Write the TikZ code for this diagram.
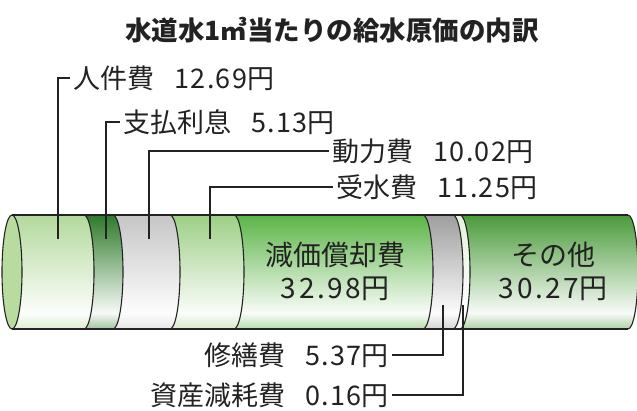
\documentclass[tikz,border=0pt]{standalone}
\usepackage{fontspec}
\newfontfamily\jpfont{Noto Sans CJK JP}
\newfontfamily\jpnum[LetterSpace=9]{Noto Sans CJK JP}
\newfontfamily\jplnum[LetterSpace=5]{Noto Sans CJK JP}
\definecolor{cA}{HTML}{B3D99C}
\definecolor{cB}{HTML}{2E7A2A}
\definecolor{cC}{HTML}{C6C6C6}
\definecolor{cD}{HTML}{9CCF85}
\definecolor{cE}{HTML}{5BB446}
\definecolor{cF}{HTML}{9E9E9E}
\definecolor{cG}{HTML}{E4F2DA}
\definecolor{cH}{HTML}{4A9A3A}
\definecolor{capc}{HTML}{B8DCA0}
\definecolor{ink}{HTML}{222222}
\newcommand\mkcylshade[2]{\pgfdeclareverticalshading{#1}{100bp}{color(0bp)=(#2!45!white); color(25bp)=(#2!45!white); color(32bp)=(#2!4!white); color(75bp)=(#2); color(100bp)=(#2)}}
\mkcylshade{shA}{cA}
\mkcylshade{shB}{cB}
\mkcylshade{shC}{cC}
\mkcylshade{shD}{cD}
\mkcylshade{shE}{cE}
\mkcylshade{shF}{cF}
\mkcylshade{shG}{cG}
\mkcylshade{shH}{cH}
\newcommand\cylseg[3]{\shade[shading=#3] (#1,195) arc[start angle=90,end angle=-90,x radius=10pt,y radius=57pt] -- (#2,81) arc[start angle=-90,end angle=90,x radius=10pt,y radius=57pt] -- cycle;}
\begin{document}
\begin{tikzpicture}[x=1pt,y=1pt,
  outline/.style={draw=ink,line width=1.1pt},
  leader/.style={draw=ink,line width=1.2pt},
  lbl/.style={font=\jpfont\fontsize{27}{30}\selectfont,text=ink,inner sep=3pt},
  intext/.style={font=\jpfont\fontsize{28}{33}\selectfont,text=ink,align=center},
  titlestyle/.style={font=\jpfont\bfseries\fontsize{26.5}{30}\selectfont,text=ink}]
\useasboundingbox (0,0) rectangle (637,410);
\clip (0,0) rectangle (637,410);
% title
\node[titlestyle] (title) at (332,380) {水道水1㎥当たりの給水原価の内訳};
% segments
\cylseg{12}{84}{shA}
\cylseg{84}{113}{shB}
\cylseg{113}{170}{shC}
\cylseg{170}{234}{shD}
\cylseg{234}{423}{shE}
\cylseg{423}{453}{shF}
\cylseg{453}{460}{shG}
\cylseg{460}{628}{shH}
% cap
\filldraw[outline,fill=capc] (12,138) ellipse [x radius=10pt,y radius=57pt];
% outline
\draw[outline] (12,195) -- (628,195);
\draw[outline] (12,81) -- (628,81);
\foreach \b in {84,113,170,234,423,453,460,628}
  \draw[outline] (\b,195) arc[start angle=90,end angle=-90,x radius=10pt,y radius=57pt];
% inner texts
\node[intext] (t5) at (335,139) {減価償却費\\{\jpnum 32.98}円};
\node[intext] (t8) at (553,139) {その他\\{\jpnum 30.27}円};
% labels
\node[lbl,anchor=west] (l1) at (70,332) {人件費\hspace{0.75em}{\jplnum 12.69}円};
\node[lbl,anchor=west] (l2) at (120,288) {支払利息\hspace{0.75em}{\jplnum 5.13}円};
\node[lbl,anchor=west] (l3) at (329,259) {動力費\hspace{0.75em}{\jplnum 10.02}円};
\node[lbl,anchor=west] (l4) at (333,223) {受水費\hspace{0.75em}{\jplnum 11.25}円};
\node[lbl,anchor=east] (l5) at (392,55) {修繕費\hspace{0.75em}{\jplnum 5.37}円};
\node[lbl,anchor=east] (l6) at (392,15) {資産減耗費\hspace{0.75em}{\jplnum 0.16}円};
% leader feet
\coordinate (f1) at (58,171);
\coordinate (f2) at (106,171);
\coordinate (f3) at (149,171);
\coordinate (f4) at (210,171);
\coordinate (f5) at (443,105);
\coordinate (f6) at (463,105);
\draw[leader] (f1) |- (l1.west);
\draw[leader] (f2) |- (l2.west);
\draw[leader] (f3) |- (l3.west);
\draw[leader] (f4) |- (l4.west);
\draw[leader] (f5) |- (l5.east);
\draw[leader] (f6) |- (l6.east);
\end{tikzpicture}
\end{document}
